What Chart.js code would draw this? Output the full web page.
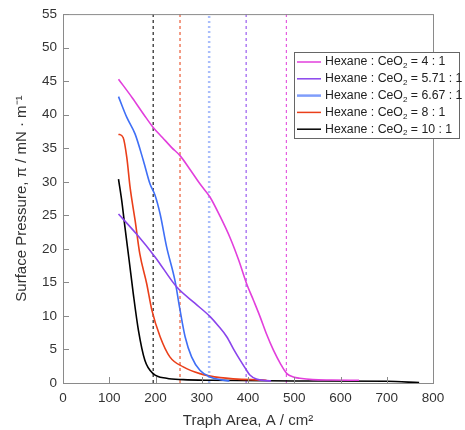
<!DOCTYPE html>
<html>
<head>
<meta charset="utf-8">
<script src="https://cdn.jsdelivr.net/npm/chart.js@4"></script>
<style>
  html, body { margin: 0; padding: 0; background: #fff; }
  #wrap { width: 465px; height: 430px; }
</style>
</head>
<body>
<div id="wrap"><canvas id="chart" width="465" height="430"></canvas></div>
<script>
// Traph area (cm2) and surface pressure (mN/m)
const ratio4X = [120, 150, 175, 195, 215, 235, 253, 275, 296, 318, 340, 361, 380, 397, 412, 426, 440, 455, 470, 484, 498, 512, 540, 580, 640];
const ratio4Y = [45.3, 42.5, 40, 38.1, 36.6, 35.1, 33.9, 31.8, 29.7, 27.7, 24.8, 21.7, 18.3, 14.8, 12.3, 9.9, 7.3, 4.9, 2.9, 1.4, 0.9, 0.7, 0.5, 0.45, 0.4];

const ratio571X = [120, 159, 199, 246, 285, 318, 336, 354, 370, 383, 395, 404, 418, 440, 450];
const ratio571Y = [25.2, 22.2, 18.8, 14.3, 11.9, 9.9, 8.5, 6.9, 4.9, 3.4, 2.1, 1.2, 0.6, 0.35, 0.3];

const ratio667X = [120, 138, 156, 174, 188, 199, 210, 224, 242, 253, 264, 278, 296, 318, 340, 360];
const ratio667Y = [42.7, 39.6, 37.1, 33.1, 29.7, 28.0, 25.2, 20.3, 15.3, 10.9, 6.9, 3.9, 1.9, 0.9, 0.5, 0.3];

const ratio8X = [120, 130, 138, 145, 156, 166, 181, 192, 210, 231, 260, 296, 340, 440];
const ratio8Y = [37.1, 36.6, 33.6, 29.2, 24.2, 19.3, 14.8, 10.9, 6.9, 3.9, 2.4, 1.4, 0.8, 0.4];

const ratio10X = [120, 127, 134, 143, 152, 163, 177, 195, 224, 260, 320, 500, 700, 770];
const ratio10Y = [30.4, 27.2, 23.2, 18.3, 13.3, 7.9, 3.4, 1.4, 0.7, 0.5, 0.4, 0.3, 0.25, 0.05];

// dashed reference lines (limiting areas)
const markerX = [483, 396, 316, 253, 195];

const seriesRatios = ['4 : 1', '5.71 : 1', '6.67 : 1', '8 : 1', '10 : 1'];
const seriesColors = ['#e23fdc', '#8a44ec', '#3f6ff6', '#ea3f1a', '#000000'];
const legendColors = ['#e23fdc', '#8a44ec', '#7f9dfb', '#ea3f1a', '#000000'];
const markerColors = ['#e55ce0', '#9a5cf0', '#a9bdfb', '#ea5a35', '#222222'];

const xTicks = [0, 100, 200, 300, 400, 500, 600, 700, 800];
const yTicks = [0, 5, 10, 15, 20, 25, 30, 35, 40, 45, 50, 55];

const curves = [
  [ratio4X, ratio4Y], [ratio571X, ratio571Y], [ratio667X, ratio667Y],
  [ratio8X, ratio8Y], [ratio10X, ratio10Y]
];

const FONT = '"Liberation Sans", Arial, sans-serif';

const datasets = [];
curves.forEach(([xs, ys], i) => {
  datasets.push({
    data: xs.map((x, j) => ({ x, y: ys[j] })),
    borderColor: seriesColors[i],
    borderWidth: 1.6,
    pointRadius: 0,
    cubicInterpolationMode: 'monotone',
    order: 1
  });
});
markerX.forEach((x, i) => {
  datasets.push({
    data: [{ x, y: 0 }, { x, y: 55 }],
    borderColor: markerColors[i],
    borderWidth: i === 2 ? 2.5 : 1.2,
    borderDash: i === 2 ? [2, 3] : [3, 3],
    pointRadius: 0,
    order: 2
  });
});

// box + inward ticks
const frame = {
  id: 'frame',
  afterDatasetsDraw(chart) {
    const { ctx, chartArea: a, scales } = chart;
    ctx.save();
    ctx.strokeStyle = '#8a8a8a';
    ctx.lineWidth = 1;
    ctx.strokeRect(a.left + 0.5, a.top + 0.5, a.right - a.left, a.bottom - a.top);
    ctx.beginPath();
    xTicks.forEach(v => {
      const px = Math.round(scales.x.getPixelForValue(v)) + 0.5;
      ctx.moveTo(px, a.bottom);
      ctx.lineTo(px, a.bottom - 6);
    });
    yTicks.forEach(v => {
      const py = Math.round(scales.y.getPixelForValue(v)) + 0.5;
      ctx.moveTo(a.left, py);
      ctx.lineTo(a.left + 6, py);
    });
    ctx.stroke();
    ctx.restore();
  }
};

// legend box drawn over the top-right corner
const legendBox = {
  id: 'legendBox',
  afterDraw(chart) {
    const { ctx } = chart;
    const x0 = 294, y0 = 52, w = 165, h = 86;
    ctx.save();
    ctx.fillStyle = '#fff';
    ctx.fillRect(x0, y0, w, h);
    ctx.strokeStyle = '#666';
    ctx.lineWidth = 1;
    ctx.strokeRect(x0 + 0.5, y0 + 0.5, w, h);
    seriesRatios.forEach((r, i) => {
      const y = 62 + i * 16.8;
      ctx.strokeStyle = legendColors[i];
      ctx.lineWidth = i === 2 ? 2.5 : 1.5;
      ctx.beginPath();
      ctx.moveTo(297, y);
      ctx.lineTo(321, y);
      ctx.stroke();
      ctx.fillStyle = '#222';
      ctx.textBaseline = 'middle';
      ctx.font = '12.3px ' + FONT;
      let tx = 325;
      ctx.fillText('Hexane : CeO', tx, y);
      tx += ctx.measureText('Hexane : CeO').width;
      ctx.font = '8px ' + FONT;
      ctx.fillText('2', tx, y + 4);
      tx += ctx.measureText('2').width;
      ctx.font = '12.3px ' + FONT;
      ctx.fillText(' = ' + r, tx, y);
    });
    ctx.restore();
  }
};

new Chart(document.getElementById('chart').getContext('2d'), {
  type: 'line',
  data: { datasets },
  plugins: [frame, legendBox],
  options: {
    responsive: false,
    animation: false,
    layout: { padding: { top: 13, right: 32, left: 0, bottom: 0 } },
    plugins: { legend: { display: false }, tooltip: { enabled: false } },
    scales: {
      x: {
        type: 'linear', min: 0, max: 800,
        afterBuildTicks: s => { s.ticks = xTicks.map(v => ({ value: v })); },
        afterFit: s => { s.height = 47; },
        grid: { display: false, drawTicks: false },
        border: { display: false },
        ticks: { color: '#333', padding: 7, font: { size: 13.5, family: FONT } },
        title: { display: true, text: 'Traph Area, A / cm²', color: '#333', padding: { top: 10, bottom: 0 }, font: { size: 15, family: FONT } }
      },
      y: {
        type: 'linear', min: 0, max: 55,
        afterBuildTicks: s => { s.ticks = yTicks.map(v => ({ value: v })); },
        afterFit: s => { s.width = 63; },
        grid: { display: false, drawTicks: false },
        border: { display: false },
        ticks: { color: '#333', padding: 6, font: { size: 13.5, family: FONT } },
        title: { display: true, text: 'Surface Pressure, π / mN · m⁻¹', color: '#333', padding: { top: 13, bottom: 0 }, font: { size: 15, family: FONT } }
      }
    }
  }
});
</script>
</body>
</html>
